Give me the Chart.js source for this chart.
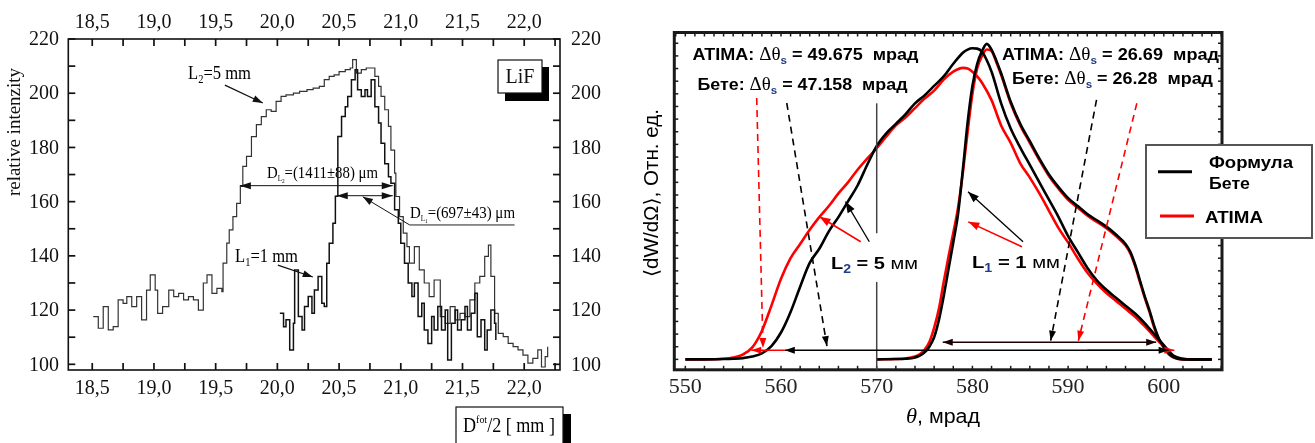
<!DOCTYPE html>
<html>
<head>
<meta charset="utf-8">
<script src="https://cdn.jsdelivr.net/npm/chart.js@4.4.0/dist/chart.umd.min.js"></script>
<style>
  html, body { margin: 0; padding: 0; background: #fff; }
  #wrap { position: relative; width: 1315px; height: 443px; overflow: hidden; }
  canvas { position: absolute; top: 0; }
  #lif { left: 0; }
  #theta { left: 620px; }
</style>
</head>
<body>
<div id="wrap">
  <canvas id="lif" width="620" height="443"></canvas>
  <canvas id="theta" width="695" height="443"></canvas>
</div>
<script>
// ---- left panel: LiF measured profiles ----
const lifL2X = [18.508,18.549,18.589,18.63,18.67,18.71,18.75,18.78,18.82,18.86,18.9,18.94,18.97,19.01,19.03,19.07,19.12,19.16,19.2,19.24,19.28,19.32,19.36,19.4,19.43,19.47,19.51,19.55,19.56,19.59,19.61,19.64,19.67,19.7,19.72,19.75,19.79,19.83,19.87,19.91,19.95,19.99,20.03,20.07,20.13,20.18,20.24,20.29,20.34,20.38,20.42,20.46,20.5,20.55,20.59,20.61,20.64,20.68,20.72,20.76,20.79,20.82,20.84,20.87,20.9,20.92,20.95,20.96,20.99,21.02,21.05,21.07,21.11,21.15,21.19,21.23,21.27,21.32,21.36,21.4,21.44,21.48,21.52,21.56,21.6,21.64,21.68,21.71,21.73,21.76,21.79,21.83,21.87,21.91,21.95,21.99,22.03,22.07,22.11,22.14,22.17,22.19];
const lifL2Y = [117.6,113.3,121.3,112.7,113.9,123.8,122.5,125,121.3,125,116.4,127.4,133,127.4,118.8,121.3,127.4,125,126.2,123.8,125,123.8,120,130,133,126.2,128,126.8,137.3,144.7,149.6,154.5,159.4,165.6,173,176.7,184,188.4,191.4,193.9,193.3,197,198.8,199.4,200,200.7,201.3,201.9,202.5,205,206.2,206.8,208,208.7,209.3,212.4,207.4,208.7,209.3,209.3,206.2,202.5,198.8,193.9,187.8,179,170.5,161.9,154.5,148.4,143.4,137.3,143.4,134.8,130,125,131.1,117.6,115.1,121.3,116.4,118.8,117.6,123.8,130,132.4,139.8,144,132.4,118.8,111.4,110.2,107.7,106.5,105.3,103.4,100.4,102.2,105.3,99,102.8,106.5];
const lifL1X = [20.02,20.05,20.07,20.1,20.13,20.14,20.17,20.2,20.22,20.25,20.28,20.3,20.33,20.36,20.38,20.4,20.42,20.45,20.47,20.48,20.49,20.52,20.55,20.57,20.6,20.63,20.65,20.68,20.71,20.73,20.76,20.79,20.82,20.84,20.87,20.9,20.92,20.95,20.98,21.0,21.03,21.06,21.09,21.11,21.14,21.17,21.19,21.22,21.25,21.27,21.3,21.33,21.36,21.38,21.41,21.44,21.46,21.49,21.52,21.54,21.57,21.6,21.62,21.65,21.68,21.7,21.73,21.76,21.77];
const lifL1Y = [118.8,113.9,116.4,105.3,115.1,134.8,117.6,112.7,121.3,125,118.8,127.4,132.4,122.5,121.3,137.3,144.7,152,162,162,184,191.4,195,198.8,205,208.7,201.3,198.8,201.3,198.8,205,195,189,181.5,174,169.2,166.8,157,152,144.7,137.3,130,125,130,117.6,122.5,112.7,107.7,117.6,112.7,121.3,112.7,120,101.6,115.1,120,112.7,116.4,121.3,112.7,118.8,126.2,110.2,116.4,105.3,112.7,120,115.1,109];
const lifTickX = [18.5, 19.0, 19.5, 20.0, 20.5, 21.0, 21.5, 22.0];
const lifTickXLabels = ['18,5', '19,0', '19,5', '20,0', '20,5', '21,0', '21,5', '22,0'];
const lifTickY = [100, 120, 140, 160, 180, 200, 220];

// ---- right panel: simulated distributions ----
const thetaL2 = [550,552,554,555,556,557,558,559,560,561,562,563,564,565,566,567,568,569,570,571,572,573,574,575,576,577,578,579,579.5,580,580.5,581,582,583,584,585,586,587,588,589,590,591,592,593,594,595,596,597,598,599,600,601,602,603,604,605];
const betheL2 = [0,0,0.001,0.002,0.004,0.009,0.019,0.042,0.085,0.15,0.23,0.305,0.35,0.405,0.45,0.5,0.55,0.615,0.675,0.715,0.745,0.775,0.81,0.835,0.865,0.895,0.935,0.97,0.98,0.984,0.983,0.973,0.91,0.81,0.73,0.67,0.615,0.56,0.505,0.45,0.39,0.34,0.29,0.25,0.22,0.195,0.17,0.145,0.115,0.08,0.045,0.012,0.002,0,0,0];
const atimaL2 = [0,0,0.002,0.006,0.015,0.038,0.09,0.17,0.255,0.32,0.365,0.41,0.45,0.485,0.525,0.56,0.6,0.635,0.668,0.705,0.74,0.765,0.795,0.825,0.85,0.885,0.91,0.922,0.92,0.91,0.895,0.875,0.82,0.74,0.685,0.62,0.575,0.525,0.47,0.415,0.37,0.32,0.275,0.24,0.21,0.185,0.16,0.135,0.105,0.072,0.04,0.01,0.001,0,0,0];
const thetaL1 = [570,572,573,574,574.5,575,575.5,576,576.5,577,577.5,578,578.5,579,579.5,580,580.5,581,581.5,582,582.5,583,584,585,586,587,588,589,590,591,592,593,594,595,596,596.5,597,597.5,598,598.5,599,599.5,600,600.5,601,601.5,602,603,605];
const betheL1 = [0,0.001,0.002,0.006,0.012,0.022,0.04,0.07,0.125,0.2,0.285,0.37,0.46,0.6,0.75,0.865,0.935,0.975,0.998,0.98,0.945,0.905,0.815,0.745,0.69,0.635,0.585,0.545,0.51,0.485,0.46,0.44,0.42,0.395,0.365,0.34,0.3,0.25,0.2,0.155,0.105,0.065,0.04,0.019,0.007,0.002,0,0,0];
const atimaL1 = [0,0.001,0.003,0.009,0.016,0.03,0.055,0.1,0.16,0.245,0.325,0.4,0.48,0.59,0.72,0.84,0.92,0.96,0.98,0.975,0.94,0.9,0.81,0.74,0.685,0.63,0.58,0.54,0.505,0.48,0.455,0.435,0.415,0.39,0.36,0.335,0.295,0.245,0.195,0.15,0.1,0.062,0.037,0.017,0.006,0.001,0,0,0];
const thetaTicks = [550, 560, 570, 580, 590, 600];

function pairs(xs, ys) {
  return xs.map((v, i) => ({ x: v, y: ys[i] }));
}

function seg(ctx, x1, y1, x2, y2) {
  ctx.beginPath();
  ctx.moveTo(x1, y1);
  ctx.lineTo(x2, y2);
  ctx.stroke();
}

// filled arrow head at (x2, y2) pointing away from (x1, y1)
function head(ctx, x1, y1, x2, y2, len, half) {
  const a = Math.atan2(y2 - y1, x2 - x1);
  ctx.beginPath();
  ctx.moveTo(x2, y2);
  ctx.lineTo(x2 - len * Math.cos(a) + half * Math.sin(a), y2 - len * Math.sin(a) - half * Math.cos(a));
  ctx.lineTo(x2 - len * Math.cos(a) - half * Math.sin(a), y2 - len * Math.sin(a) + half * Math.cos(a));
  ctx.closePath();
  ctx.fill();
}

function arrow(ctx, x1, y1, x2, y2, opt) {
  ctx.save();
  ctx.strokeStyle = opt.color;
  ctx.fillStyle = opt.color;
  ctx.lineWidth = opt.width || 1;
  if (opt.dash) ctx.setLineDash(opt.dash);
  seg(ctx, x1, y1, x2, y2);
  ctx.setLineDash([]);
  head(ctx, x1, y1, x2, y2, opt.len || 9, opt.half || 3.5);
  if (opt.both) head(ctx, x2, y2, x1, y1, opt.len || 9, opt.half || 3.5);
  ctx.restore();
}

// text made of several runs, squeezed to a given width
function rich(ctx, runs, x, y, w) {
  let total = 0;
  runs.forEach(r => { ctx.font = r.f; r.w = ctx.measureText(r.t).width; total += r.w; });
  const k = w ? w / total : 1;
  ctx.save();
  ctx.translate(x, y);
  ctx.scale(k, 1);
  ctx.textAlign = 'left';
  ctx.textBaseline = 'alphabetic';
  let cx = 0;
  runs.forEach(r => {
    ctx.font = r.f;
    ctx.fillStyle = r.c || '#000';
    ctx.fillText(r.t, cx, r.dy || 0);
    cx += r.w;
  });
  ctx.restore();
}

const SERIF = '"Liberation Serif", "DejaVu Serif", serif';
const SANS = '"Liberation Sans", Arial, "DejaVu Sans", sans-serif';

// ---------- left chart decorations ----------
const lifDecor = {
  id: 'lifDecor',
  afterDraw(chart) {
    const { ctx, chartArea: a, scales: { x, y } } = chart;
    const X = v => x.getPixelForValue(v);
    const Y = v => y.getPixelForValue(v);
    ctx.save();
    ctx.strokeStyle = '#111';
    ctx.lineWidth = 1.6;
    ctx.strokeRect(a.left, a.top, a.right - a.left, a.bottom - a.top);

    ctx.lineWidth = 1.7;
    for (let v = 18.5; v <= 22.26; v += 0.25) {
      const p = X(v);
      seg(ctx, p, a.bottom, p, a.bottom - 7);
      seg(ctx, p, a.top, p, a.top + 7);
    }
    for (let v = 100; v <= 220; v += 10) {
      const p = Y(v);
      seg(ctx, a.left, p, a.left + 7, p);
      seg(ctx, a.right, p, a.right - 7, p);
    }

    ctx.fillStyle = '#111';
    ctx.font = '20px ' + SERIF;
    ctx.textBaseline = 'alphabetic';
    ctx.textAlign = 'center';
    lifTickX.forEach((v, i) => {
      ctx.fillText(lifTickXLabels[i], X(v), 28);
      ctx.fillText(lifTickXLabels[i], X(v), 394);
    });
    ctx.textBaseline = 'middle';
    lifTickY.forEach(v => {
      ctx.textAlign = 'right';
      ctx.fillText(String(v), 59, Y(v) + 1);
      ctx.textAlign = 'left';
      ctx.fillText(String(v), 571, Y(v) + 1);
    });

    // axis title
    ctx.save();
    ctx.translate(15, 132);
    ctx.rotate(-Math.PI / 2);
    ctx.textAlign = 'center';
    ctx.textBaseline = 'middle';
    ctx.font = '19px ' + SERIF;
    ctx.fillText('relative intenzity', 0, 0);
    ctx.restore();

    // LiF label box with shadow
    ctx.fillStyle = '#000';
    ctx.fillRect(505, 67, 44, 34);
    ctx.fillStyle = '#fff';
    ctx.fillRect(498, 60, 44, 33);
    ctx.lineWidth = 1.2;
    ctx.strokeRect(498, 60, 44, 33);
    ctx.fillStyle = '#111';
    ctx.textAlign = 'center';
    ctx.textBaseline = 'alphabetic';
    ctx.font = '20px ' + SERIF;
    ctx.fillText('LiF', 520, 83);

    // x title box
    ctx.fillStyle = '#000';
    ctx.fillRect(563, 414, 8, 40);
    ctx.fillStyle = '#fff';
    ctx.fillRect(456, 407, 107, 40);
    ctx.strokeRect(456, 407, 107, 40);
    rich(ctx, [
      { t: 'D', f: '20px ' + SERIF },
      { t: 'fot', f: '11px ' + SERIF, dy: -9 },
      { t: '/2 [ mm ]', f: '20px ' + SERIF }
    ], 463, 432, 92);

    // labels and arrows
    rich(ctx, [
      { t: 'L', f: '19px ' + SERIF },
      { t: '2', f: '12px ' + SERIF, dy: 4 },
      { t: '=5 mm', f: '19px ' + SERIF }
    ], 188, 79, 63);
    arrow(ctx, X(19.575), Y(203.0), X(19.882), Y(196.4), { color: '#111', width: 1.2, len: 10, half: 3.5 });

    rich(ctx, [
      { t: 'L', f: '19px ' + SERIF },
      { t: '1', f: '12px ' + SERIF, dy: 4 },
      { t: '=1 mm', f: '19px ' + SERIF }
    ], 235, 262, 63);
    arrow(ctx, X(20.004), Y(136.6), X(20.287), Y(132.2), { color: '#111', width: 1.2, len: 10, half: 3.5 });

    rich(ctx, [
      { t: 'D', f: '17px ' + SERIF },
      { t: 'L', f: '8px ' + SERIF, dy: 3 },
      { t: '2', f: '6px ' + SERIF, dy: 5 },
      { t: '=(1411±88) μm', f: '17px ' + SERIF }
    ], 267, 177.5, 111);
    arrow(ctx, X(19.696), Y(165.9), X(20.935), Y(165.9), { color: '#111', width: 1, both: true, len: 11, half: 3.5 });

    arrow(ctx, X(20.481), Y(162.2), X(20.935), Y(162.2), { color: '#111', width: 1, both: true, len: 11, half: 3.5 });
    rich(ctx, [
      { t: 'D', f: '17px ' + SERIF },
      { t: 'L', f: '8px ' + SERIF, dy: 3 },
      { t: '1', f: '6px ' + SERIF, dy: 5 },
      { t: '=(697±43) μm', f: '17px ' + SERIF }
    ], 410, 218, 105);
    ctx.strokeStyle = '#222';
    ctx.lineWidth = 1;
    seg(ctx, X(21.072), Y(151.4), X(21.922), Y(151.4));
    arrow(ctx, X(21.072), Y(151.4), X(20.692), Y(161.8), { color: '#111', width: 1, len: 10, half: 3.5 });
    ctx.restore();
  }
};

new Chart(document.getElementById('lif'), {
  type: 'line',
  data: {
    datasets: [
      {
        label: 'L1 = 1 mm',
        data: pairs(lifL1X, lifL1Y),
        borderColor: '#111',
        borderWidth: 1.5,
        stepped: true,
        pointRadius: 0,
        fill: false
      },
      {
        label: 'L2 = 5 mm',
        data: pairs(lifL2X, lifL2Y),
        borderColor: '#333',
        borderWidth: 1.2,
        stepped: true,
        pointRadius: 0,
        fill: false
      }
    ]
  },
  options: {
    responsive: false,
    animation: false,
    devicePixelRatio: 1,
    layout: { padding: { left: 68.3, right: 60, top: 39, bottom: 73 } },
    scales: {
      x: { type: 'linear', min: 18.306, max: 22.29, display: false },
      y: { type: 'linear', min: 97.9, max: 220, display: false }
    },
    plugins: { legend: { display: false }, tooltip: { enabled: false } }
  },
  plugins: [lifDecor]
});

// ---------- right chart decorations ----------
const B17 = 'bold 17px ' + SANS;
const DT = '18px ' + SERIF;
const SUBS = 'bold 11px ' + SANS;
const NAVY = '#1f3c88';

function deltaText(ctx, name, value, x, y, w) {
  rich(ctx, [
    { t: name + ' ', f: B17 },
    { t: 'Δθ', f: DT },
    { t: 's', f: SUBS, c: NAVY, dy: 4 },
    { t: ' = ' + value + '  мрад', f: B17 }
  ], x, y, w);
}

const thetaDecor = {
  id: 'thetaDecor',
  afterDraw(chart) {
    const { ctx, chartArea: a, scales: { x, y } } = chart;
    const X = v => x.getPixelForValue(v);
    const Y = v => y.getPixelForValue(v);
    ctx.save();

    // frame
    ctx.strokeStyle = '#1a1a1a';
    ctx.lineWidth = 3;
    ctx.strokeRect(a.left, a.top, a.right - a.left, a.bottom - a.top);
    ctx.lineWidth = 1.5;
    for (let v = 550; v <= 606; v += 2) {
      seg(ctx, X(v), a.bottom, X(v), a.bottom - 4);
    }
    for (let v = 549; v <= 606; v += 1) {
      seg(ctx, X(v), a.top, X(v), a.top + 4);
    }
    for (let v = 0; v <= 1.04; v += 0.04) {
      seg(ctx, a.left, Y(v), a.left + 4, Y(v));
      seg(ctx, a.right, Y(v), a.right - 4, Y(v));
    }

    ctx.fillStyle = '#222';
    ctx.font = '22px ' + SERIF;
    ctx.textAlign = 'center';
    ctx.textBaseline = 'middle';
    thetaTicks.forEach(v => ctx.fillText(String(v), X(v), 387));

    // axis titles
    rich(ctx, [
      { t: 'θ', f: 'italic 21px ' + SERIF },
      { t: ', мрад', f: '20px ' + SANS }
    ], 286, 423, 74);
    ctx.save();
    ctx.translate(31, 193);
    ctx.rotate(-Math.PI / 2);
    rich(ctx, [{ t: '⟨dW/dΩ⟩, Отн. ед.', f: '20px ' + SANS }], -84, 7, 168);
    ctx.restore();

    // vertical marker at 570 with a gap for the label
    ctx.strokeStyle = '#444';
    ctx.lineWidth = 1.5;
    seg(ctx, X(570), Y(0.81), X(570), Y(0.399));
    seg(ctx, X(570), Y(0.245), X(570), a.bottom);

    // width arrows
    arrow(ctx, X(560.4), Y(0.029), X(556.9), Y(0.029), { color: '#ff0000', width: 1.5, len: 10, half: 3.5 });
    arrow(ctx, X(592), Y(0.029), X(601.1), Y(0.029), { color: '#ff0000', width: 1.5, len: 10, half: 3.5 });
    arrow(ctx, X(560.4), Y(0.029), X(600.5), Y(0.029), { color: '#000', width: 1.5, both: true, len: 10, half: 3.5 });
    arrow(ctx, X(576.9), Y(0.054), X(599.2), Y(0.054), { color: '#1a0000', width: 1.5, both: true, len: 10, half: 3.5 });

    // dashed pointers
    arrow(ctx, X(557.46), Y(0.827), X(558.12), Y(0.036), { color: '#ff0000', width: 1.6, dash: [7, 5], len: 10, half: 3.5 });
    arrow(ctx, X(560.6), Y(0.811), X(564.8), Y(0.042), { color: '#000', width: 1.6, dash: [7, 5], len: 10, half: 3.5 });
    arrow(ctx, X(592.97), Y(0.821), X(588.18), Y(0.059), { color: '#000', width: 1.6, dash: [7, 5], len: 10, half: 3.5 });
    arrow(ctx, X(597.18), Y(0.81), X(591.07), Y(0.059), { color: '#ff0000', width: 1.6, dash: [7, 5], len: 10, half: 3.5 });

    // solid pointers to the curves
    arrow(ctx, X(568.33), Y(0.372), X(564.03), Y(0.451), { color: '#ff0000', width: 1.6, len: 11, half: 4 });
    arrow(ctx, X(569.23), Y(0.372), X(566.74), Y(0.499), { color: '#000', width: 1.3, len: 11, half: 4 });
    arrow(ctx, X(585.29), Y(0.372), X(579.54), Y(0.53), { color: '#000', width: 1.3, len: 11, half: 4 });
    arrow(ctx, X(585.18), Y(0.356), X(579.57), Y(0.435), { color: '#ff0000', width: 1.6, len: 11, half: 4 });

    // texts
    deltaText(ctx, 'ATIMA:', '49.675', 72.5, 59.5, 226);
    deltaText(ctx, 'Бете:', '47.158', 77.5, 89.5, 210);
    deltaText(ctx, 'ATIMA:', '26.69', 382, 59.5, 217);
    deltaText(ctx, 'Бете:', '26.28', 392, 84, 201);

    rich(ctx, [
      { t: 'L', f: B17 },
      { t: '2', f: 'bold 12px ' + SANS, c: NAVY, dy: 4 },
      { t: ' = 5 ', f: B17 },
      { t: 'мм', f: '17px ' + SANS }
    ], 211, 269, 87);
    rich(ctx, [
      { t: 'L', f: B17 },
      { t: '1', f: 'bold 12px ' + SANS, c: NAVY, dy: 4 },
      { t: ' = 1 ', f: B17 },
      { t: 'мм', f: '17px ' + SANS }
    ], 352, 268, 88);

    // legend
    ctx.fillStyle = '#fff';
    ctx.fillRect(526, 145, 166, 93);
    ctx.strokeStyle = '#555';
    ctx.lineWidth = 2;
    ctx.strokeRect(526, 145, 166, 93);
    ctx.lineWidth = 3;
    ctx.strokeStyle = '#000';
    seg(ctx, 538, 171.7, 572, 171.7);
    ctx.strokeStyle = '#ff0000';
    seg(ctx, 540, 216, 574, 216);
    rich(ctx, [{ t: 'Формула', f: B17 }], 589, 168, 84);
    rich(ctx, [{ t: 'Бете', f: B17 }], 589, 189, 41);
    rich(ctx, [{ t: 'ATIMA', f: B17 }], 585, 223, 58);

    ctx.restore();
  }
};

function curve(label, xs, ys, color, width) {
  return {
    label: label,
    data: pairs(xs, ys),
    borderColor: color,
    borderWidth: width,
    cubicInterpolationMode: 'monotone',
    pointRadius: 0,
    fill: false
  };
}

new Chart(document.getElementById('theta'), {
  type: 'line',
  data: {
    datasets: [
      curve('Формула Бете, L1 = 1 мм', thetaL1, betheL1, '#000', 2.6),
      curve('Формула Бете, L2 = 5 мм', thetaL2, betheL2, '#000', 2.6),
      curve('ATIMA, L1 = 1 мм', thetaL1, atimaL1, '#ff0000', 2.6),
      curve('ATIMA, L2 = 5 мм', thetaL2, atimaL2, '#ff0000', 2.6)
    ]
  },
  options: {
    responsive: false,
    animation: false,
    devicePixelRatio: 1,
    layout: { padding: { left: 54.3, right: 93, top: 32.5, bottom: 73.2 } },
    scales: {
      x: { type: 'linear', min: 548.85, max: 606.08, display: false },
      y: { type: 'linear', min: -0.033, max: 1.034, display: false }
    },
    plugins: { legend: { display: false }, tooltip: { enabled: false } }
  },
  plugins: [thetaDecor]
});
</script>
</body>
</html>
